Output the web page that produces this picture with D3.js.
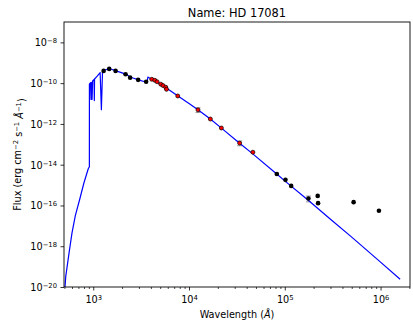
<!DOCTYPE html>
<html>
<head>
<meta charset="utf-8">
<script src="https://cdn.jsdelivr.net/npm/d3@7"></script>
<style>
  body { margin: 0; background: #fff; }
  text { font-family: "DejaVu Sans", sans-serif; fill: #000; }
</style>
</head>
<body>
<div id="chart"></div>
<script>
// model spectrum (wavelength in Angstrom, flux in erg/cm2/s/A)
const modelWave = [507, 516, 560, 600, 650, 726, 800, 887, 911, 912, 935, 948, 955, 972, 985, 1020, 1026, 1032,
  1100, 1180, 1216, 1250, 1300, 1450, 1550, 1700, 2000, 2200, 2450, 2700, 3000, 3400, 3640, 3720, 3900, 4100,
  4600, 5100, 5800, 7600, 10000, 12400, 16700, 21800, 34000, 46000, 83000, 100000, 177000, 300000, 500000,
  1000000, 1600000]
const modelFlux = [1.0e-20, 3.2e-20, 5.0e-19, 4.5e-18, 3.2e-17, 2.2e-16, 1.3e-15, 6.3e-15, 8.0e-15, 8.9e-11,
  1.05e-10, 1.6e-11, 1.1e-10, 1.6e-11, 1.3e-10, 1.5e-10, 1.4e-11, 1.6e-10,
  2.2e-10, 3.3e-10, 5.0e-12, 3.8e-10, 4.3e-10, 5.0e-10, 4.8e-10, 4.1e-10, 3.2e-10, 2.7e-10, 1.95e-10, 1.7e-10,
  1.4e-10, 1.2e-10, 1.05e-10, 2.0e-10, 1.75e-10, 1.55e-10,
  1.17e-10, 8.9e-11, 5.8e-11, 2.4e-11, 1.0e-11, 5.0e-12, 1.74e-12, 6.2e-13, 1.1e-13, 3.5e-14, 3.4e-15, 1.6e-15,
  1.74e-16, 2.1e-17, 2.8e-18, 1.66e-19, 2.4e-20]

// photometry not used in the fit (black)
const blackWave = [1283, 1468, 1711, 2176, 2427, 2942, 3566,
  82570, 101700, 116600, 176600, 220600, 222700, 523300, 961600]
const blackFlux = [4.0e-10, 5.0e-10, 4.0e-10, 2.75e-10, 1.86e-10, 1.45e-10, 1.17e-10,
  3.5e-15, 1.8e-15, 9.1e-16, 2.2e-16, 2.95e-16, 1.3e-16, 1.45e-16, 5.5e-17]
const blackErr = [0, 0, 0, 0, 0, 0, 0, 0, 0, 0, 7e-17, 0, 0, 0, 0]

// photometry used in the fit (red)
const redWave = [4083, 4393, 4642, 5073, 5358, 5718, 5818, 7627, 12410, 16710, 21770, 33760, 46440]
const redFlux = [1.55e-10, 1.38e-10, 1.17e-10, 8.9e-11, 7.6e-11, 6.3e-11, 5.0e-11, 2.35e-11,
  4.9e-12, 1.74e-12, 6.3e-13, 1.15e-13, 4.1e-14]
const redErr = [0, 0, 0, 0, 0, 0, 0, 0, 1.3e-12, 0, 0, 3e-14, 0]

const xMajor = [1e3, 1e4, 1e5, 1e6]
const yMajor = [1e-20, 1e-18, 1e-16, 1e-14, 1e-12, 1e-10, 1e-8]

const WIDTH = 413
const HEIGHT = 327
const MARGIN = { top: 22, right: 3, bottom: 40, left: 64 }
const innerW = WIDTH - MARGIN.left - MARGIN.right
const innerH = HEIGHT - MARGIN.top - MARGIN.bottom
const FS = 9.7

const svg = d3.select('#chart')
  .append('svg')
  .attr('width', WIDTH)
  .attr('height', HEIGHT)
  .attr('style', 'display: block;')

const g = svg.append('g')
  .attr('transform', `translate(${MARGIN.left},${MARGIN.top})`)

const x = d3.scaleLog().domain([495, 2.03e6]).range([0, innerW])
const y = d3.scaleLog().domain([1e-20, 1e-7]).range([innerH, 0])

g.append('clipPath').attr('id', 'clip')
  .append('rect').attr('width', innerW).attr('height', innerH)

// minor x ticks
const xMinor = []
for (let d = 100; d <= 1e6; d *= 10) {
  for (let k = 2; k <= 9; k++) {
    const v = d * k
    if (v >= x.domain()[0] && v <= x.domain()[1]) xMinor.push(v)
  }
}

g.append('g')
  .attr('transform', `translate(0,${innerH})`)
  .call(d3.axisBottom(x).tickValues(xMinor).tickSize(2).tickFormat(''))
  .call(sel => sel.select('.domain').remove())
  .call(sel => sel.selectAll('.tick line').attr('stroke', '#000').attr('stroke-width', 0.7))

// superscript tick label helper
function powLabel(sel, exp) {
  sel.append('tspan').text('10')
  sel.append('tspan')
    .attr('dy', '-0.45em')
    .style('font-size', (FS * 0.7) + 'px')
    .text(exp)
}

// major x ticks
const xAxis = g.append('g')
  .attr('transform', `translate(0,${innerH})`)
  .call(d3.axisBottom(x).tickValues(xMajor).tickSize(3.5).tickFormat(''))
  .call(sel => sel.select('.domain').remove())
  .call(sel => sel.selectAll('.tick line').attr('stroke', '#000').attr('stroke-width', 0.8))

xAxis.selectAll('.tick').each(function (d) {
  const t = d3.select(this).append('text')
    .attr('y', 16)
    .attr('text-anchor', 'middle')
    .style('font-size', FS + 'px')
  powLabel(t, String(Math.round(Math.log10(d))))
})

// major y ticks
const yAxis = g.append('g')
  .call(d3.axisLeft(y).tickValues(yMajor).tickSize(3.5).tickFormat(''))
  .call(sel => sel.select('.domain').remove())
  .call(sel => sel.selectAll('.tick line').attr('stroke', '#000').attr('stroke-width', 0.8))

yAxis.selectAll('.tick').each(function (d) {
  const t = d3.select(this).append('text')
    .attr('x', -7)
    .attr('y', 3.5)
    .attr('text-anchor', 'end')
    .style('font-size', FS + 'px')
  powLabel(t, '\u2212' + Math.abs(Math.round(Math.log10(d))))
})

// model line
const line = d3.line()
  .x((d, i) => x(d))
  .y((d, i) => y(modelFlux[i]))

// error bars
function errorBars(wave, flux, err) {
  const pts = wave.map((w, i) => ({ w, f: flux[i], e: err[i] })).filter(p => p.e > 0)
  const eb = g.append('g').attr('stroke', '#999').attr('stroke-width', 1)
  eb.selectAll('line.v').data(pts).enter().append('line')
    .attr('x1', p => x(p.w)).attr('x2', p => x(p.w))
    .attr('y1', p => y(p.f - p.e)).attr('y2', p => y(p.f + p.e))
  eb.selectAll('line.lo').data(pts).enter().append('line')
    .attr('x1', p => x(p.w) - 2.5).attr('x2', p => x(p.w) + 2.5)
    .attr('y1', p => y(p.f - p.e)).attr('y2', p => y(p.f - p.e))
  eb.selectAll('line.hi').data(pts).enter().append('line')
    .attr('x1', p => x(p.w) - 2.5).attr('x2', p => x(p.w) + 2.5)
    .attr('y1', p => y(p.f + p.e)).attr('y2', p => y(p.f + p.e))
}
errorBars(redWave, redFlux, redErr)
errorBars(blackWave, blackFlux, blackErr)

g.append('path')
  .attr('clip-path', 'url(#clip)')
  .attr('fill', 'none')
  .attr('stroke', '#0000ff')
  .attr('stroke-width', 1.2)
  .attr('stroke-linejoin', 'round')
  .attr('d', line(modelWave))

// photometry
g.append('g').selectAll('circle')
  .data(blackWave)
  .enter()
  .append('circle')
  .attr('cx', d => x(d))
  .attr('cy', (d, i) => y(blackFlux[i]))
  .attr('r', 2.3)
  .attr('fill', '#000')

g.append('g').selectAll('circle')
  .data(redWave)
  .enter()
  .append('circle')
  .attr('cx', d => x(d))
  .attr('cy', (d, i) => y(redFlux[i]))
  .attr('r', 2.0)
  .attr('fill', '#ff0000')
  .attr('stroke', '#000')
  .attr('stroke-width', 0.7)

// frame
g.append('rect')
  .attr('width', innerW)
  .attr('height', innerH)
  .attr('fill', 'none')
  .attr('stroke', '#000')
  .attr('stroke-width', 0.9)

// title
svg.append('text')
  .attr('x', MARGIN.left + innerW / 2)
  .attr('y', 17)
  .attr('text-anchor', 'middle')
  .style('font-size', '11.4px')
  .text('Name: HD 17081')

// x label
const xl = svg.append('text')
  .attr('x', MARGIN.left + innerW / 2)
  .attr('y', 318)
  .attr('text-anchor', 'middle')
  .style('font-size', FS + 'px')
xl.append('tspan').text('Wavelength (')
xl.append('tspan').style('font-style', 'italic').text('\u00c5')
xl.append('tspan').text(')')

// y label
const yl = svg.append('text')
  .attr('transform', `translate(21,${MARGIN.top + innerH / 2}) rotate(-90)`)
  .attr('text-anchor', 'middle')
  .style('font-size', FS + 'px')
const sup = FS * 0.7 + 'px'
yl.append('tspan').text('Flux (erg cm')
yl.append('tspan').attr('dy', '-0.4em').style('font-size', sup).text('\u22122')
yl.append('tspan').attr('dy', '0.4em').text(' s')
yl.append('tspan').attr('dy', '-0.4em').style('font-size', sup).text('\u22121')
yl.append('tspan').attr('dy', '0.4em').text(' ')
yl.append('tspan').style('font-style', 'italic').text('\u00c5')
yl.append('tspan').attr('dy', '-0.4em').style('font-size', sup).text('\u22121')
yl.append('tspan').attr('dy', '0.4em').text(')')
</script>
</body>
</html>
